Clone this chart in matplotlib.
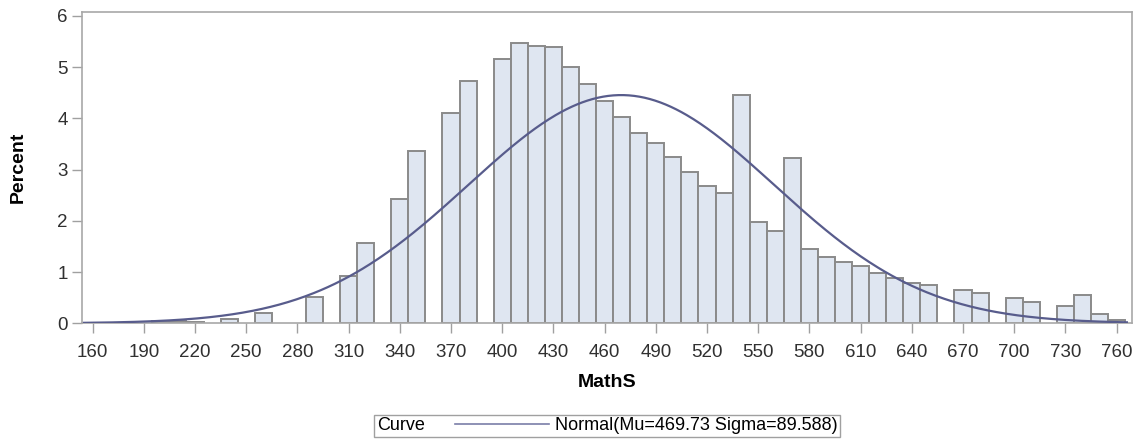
import numpy as np
import matplotlib
matplotlib.use("Agg")
import matplotlib.pyplot as plt
from matplotlib.lines import Line2D
from matplotlib.offsetbox import HPacker

plt.rcParams['font.family'] = ['Liberation Sans', 'DejaVu Sans']

# Histogram bins (midpoints of 10-point bins) and percent values
bin_mid = [200, 210, 220, 240, 260, 290, 310, 320, 340, 350, 370, 380,
           400, 410, 420, 430, 440, 450, 460, 470, 480, 490, 500, 510,
           520, 530, 540, 550, 560, 570, 580, 590, 600, 610, 620, 630,
           640, 650, 670, 680, 700, 710, 730, 740, 750, 760]
percent = [0.04, 0.04, 0.03, 0.08, 0.21, 0.52, 0.92, 1.56, 2.42, 3.37, 4.11, 4.72,
           5.16, 5.46, 5.42, 5.40, 5.00, 4.66, 4.33, 4.02, 3.72, 3.51, 3.24, 2.96,
           2.68, 2.55, 4.46, 1.97, 1.81, 3.23, 1.44, 1.29, 1.19, 1.11, 0.98, 0.89,
           0.79, 0.75, 0.64, 0.60, 0.50, 0.42, 0.34, 0.55, 0.175, 0.065]
bin_width = 10

# Fitted normal curve parameters (from legend)
mu = 469.73
sigma = 89.588

xticks = list(range(160, 761, 30))
yticks = [0, 1, 2, 3, 4, 5, 6]

fig = plt.figure(figsize=(11.41, 4.45), dpi=100)
ax = fig.add_axes([0.0716, 0.2735, 0.9205, 0.7002])

ax.bar(bin_mid, percent, width=bin_width, color='#dfe6f1',
       edgecolor='#8a8a8a', linewidth=1.4, zorder=2)

xs = np.linspace(155, 766, 600)
ys = 100 * bin_width / (sigma * np.sqrt(2 * np.pi)) * np.exp(-0.5 * ((xs - mu) / sigma) ** 2)
ax.plot(xs, ys, color='#585c8c', linewidth=1.6, zorder=3)

ax.set_xlim(153.6, 769)
ax.set_ylim(0, 6.08)
ax.set_xticks(xticks)
ax.set_yticks(yticks)
ax.tick_params(axis='both', direction='out', length=7, width=1, color='#a0a0a0',
               labelsize=13.5, labelcolor='#303030')
ax.tick_params(axis='x', pad=8)
ax.tick_params(axis='y', pad=3)
for s in ax.spines.values():
    s.set_color('#a8a8a8')
    s.set_linewidth(1.2)

ax.set_xlabel('MathS', fontsize=14, fontweight='bold', labelpad=9)
ax.set_ylabel('Percent', fontsize=14, fontweight='bold', labelpad=22)

handle = Line2D([], [], color='#7a7ea8', linewidth=1.2)
leg = fig.legend([handle], ['Normal(Mu=469.73 Sigma=89.588)'], title='Curve',
                 loc='center', bbox_to_anchor=(607 / 1141, 1 - 426 / 445),
                 ncol=1, fontsize=13, title_fontsize=13, frameon=True,
                 fancybox=False, edgecolor='#888888', handlelength=5.2,
                 borderpad=0.15, handletextpad=0.3, borderaxespad=0)
leg.get_frame().set_linewidth(1.0)
title_box = leg._legend_title_box
handle_box = leg._legend_handle_box
leg._legend_box._children = [HPacker(pad=0, sep=22, children=[title_box, handle_box], align='center')]

fig.savefig('out.png', dpi=100)
